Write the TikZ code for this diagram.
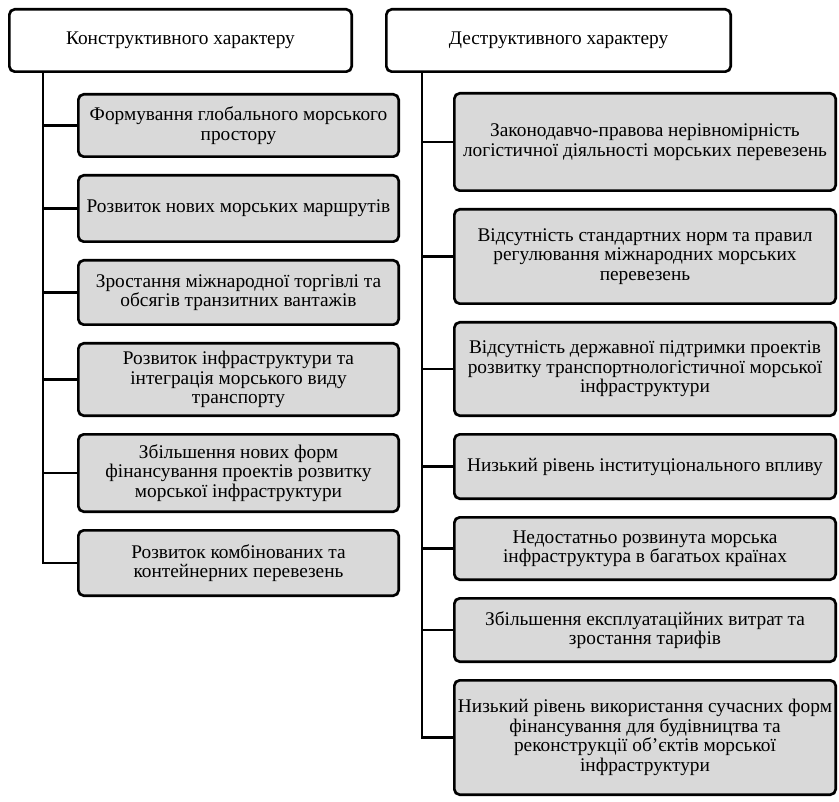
\documentclass[tikz,border=0pt]{standalone}
\usepackage{fontspec}
\setmainfont{Liberation Serif}
\usetikzlibrary{positioning}

\tikzset{
	box/.style={draw, rounded corners=4pt, line width=2pt, align=center, inner sep=1pt, font=\fontsize{14.5}{14.6}\selectfont},
	head/.style={box, fill=white, minimum height=46.75pt},
	itemL/.style={box, fill=black!15, minimum width=240.25pt},
	itemR/.style={box, fill=black!15, minimum width=286pt},
	link/.style={line width=2pt}
}

\begin{document}
\begin{tikzpicture}[node distance=12pt and 24pt]
        \useasboundingbox (0,0) rectangle (629.25pt,-601.5pt);
        \node[head, minimum width=256.75pt, anchor=north west] (HL) at (6pt,-6pt) {Конструктивного характеру};
        \node[head, minimum width=258.25pt, right=of HL] (HR) {Деструктивного характеру};
        
        % left column
        \node[itemL, minimum height=46.75pt, below right=15pt and 51.75pt of HL.south west] (L1) {Формування глобального морського\\простору};
        \node[itemL, minimum height=49.75pt, below=of L1] (L2) {Розвиток нових морських маршрутів};
        \node[itemL, minimum height=48.25pt, below=of L2] (L3) {Зростання міжнародної торгівлі та\\обсягів транзитних вантажів};
        \node[itemL, minimum height=54.25pt, below=of L3] (L4) {Розвиток інфраструктури та\\інтеграція морського виду\\транспорту};
        \node[itemL, minimum height=58pt, below=of L4] (L5) {Збільшення нових форм\\фінансування проектів розвитку\\морської інфраструктури};
        \node[itemL, minimum height=49pt, below=of L5] (L6) {Розвиток комбінованих та\\контейнерних перевезень};
        
        % right column
        \node[itemR, minimum height=73pt, below right=14.25pt and 51pt of HR.south west] (R1) {Законодавчо-правова нерівномірність\\логістичної діяльності морських перевезень};
        \node[itemR, minimum height=70.75pt, below=of R1] (R2) {Відсутність стандартних норм та правил\\регулювання міжнародних морських\\перевезень};
        \node[itemR, minimum height=70pt, below=of R2] (R3) {Відсутність державної підтримки проектів\\розвитку транспортнологістичної морської\\інфраструктури};
        \node[itemR, minimum height=48.25pt, below=of R3] (R4) {Низький рівень інституціонального впливу};
        \node[itemR, minimum height=46.75pt, below=of R4] (R5) {Недостатньо розвинута морська\\інфраструктура в багатьох країнах};
        \node[itemR, minimum height=47.5pt, below=of R5] (R6) {Збільшення експлуатаційних витрат та\\зростання тарифів};
        \node[itemR, minimum height=85.75pt, below=of R6] (R7) {Низький рівень використання сучасних форм\\фінансування для будівництва та\\реконструкції об'єктів морської\\інфраструктури};
        
        \coordinate[right=26.25pt of HL.south west] (TL); % trunk of the left tree
        \coordinate[right=27.75pt of HR.south west] (TR); % trunk of the right tree
        
        \draw[link] (TL) |- (L6.west);
        \draw[link] (TL |- L1.west) -- (L1.west);
        \draw[link] (TL |- L2.west) -- (L2.west);
        \draw[link] (TL |- L3.west) -- (L3.west);
        \draw[link] (TL |- L4.west) -- (L4.west);
        \draw[link] (TL |- L5.west) -- (L5.west);
        
        \draw[link] (TR) |- (R7.west);
        \draw[link] (TR |- R1.west) -- (R1.west);
        \draw[link] (TR |- R2.west) -- (R2.west);
        \draw[link] (TR |- R3.west) -- (R3.west);
        \draw[link] (TR |- R4.west) -- (R4.west);
        \draw[link] (TR |- R5.west) -- (R5.west);
        \draw[link] (TR |- R6.west) -- (R6.west);
    \end{tikzpicture}
\end{document}
